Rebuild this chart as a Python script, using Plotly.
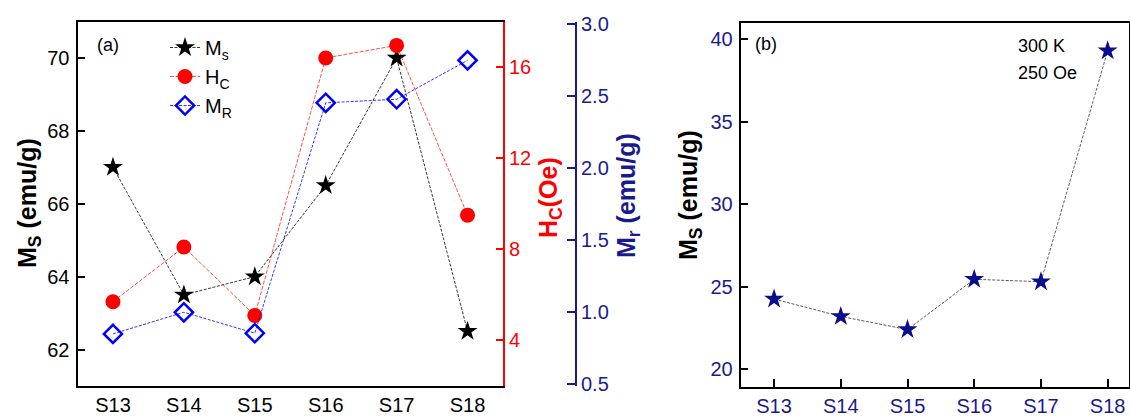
import plotly.graph_objects as go

# Sample labels shared by both panels
samples = ["S13", "S14", "S15", "S16", "S17", "S18"]

# Panel (a): saturation magnetisation, coercivity and remanence
ms_a = [67.0, 63.5, 64.0, 66.5, 70.0, 62.5]
hc_a = [5.7, 8.1, 5.1, 16.4, 16.95, 9.5]
mr_a = [0.85, 1.0, 0.855, 2.455, 2.48, 2.75]

# Panel (b): magnetisation at 300 K, 250 Oe
ms_b = [24.25, 23.2, 22.4, 25.45, 25.3, 39.3]

W, H = 1130, 417
NAVY = "#1a1a8e"
STAR_NAVY = "#0c0c8f"
FONT = "Liberation Sans, Arial, sans-serif"

def px(x):
    return x / W

def py(y):
    return 1 - y / H

idx = list(range(len(samples)))

fig = go.Figure()

fig.add_trace(go.Scatter(
    x=idx, y=ms_a, name="M<sub>s</sub>", mode="lines+markers",
    line=dict(color="black", width=0.8, dash="3px,1.5px"),
    marker=dict(symbol="star", size=15, color="black"),
    xaxis="x", yaxis="y"))
fig.add_trace(go.Scatter(
    x=idx, y=hc_a, name="H<sub>C</sub>", mode="lines+markers",
    line=dict(color="red", width=0.7, dash="4px,1.5px"),
    marker=dict(symbol="circle", size=15, color="red"),
    xaxis="x", yaxis="y2"))
fig.add_trace(go.Scatter(
    x=idx, y=mr_a, name="M<sub>R</sub>", mode="lines+markers",
    line=dict(color="blue", width=0.8, dash="3px,1.5px"),
    marker=dict(symbol="diamond-open", size=14, color="blue", line=dict(width=2.5, color="blue")),
    xaxis="x", yaxis="y3"))
fig.add_trace(go.Scatter(
    x=idx, y=ms_b, mode="lines+markers", showlegend=False,
    line=dict(color="#333333", width=0.8, dash="3px,1.5px"),
    marker=dict(symbol="star", size=15, color=STAR_NAVY),
    xaxis="x2", yaxis="y4"))

dom_a = [px(77.5), px(503)]
ydom_a = [py(386), py(21.5)]
dom_b = [px(740.7), px(1129)]
ydom_b = [py(386.5), py(22.7)]

tickfont = dict(family=FONT, size=20, color="black")

fig.update_layout(
    template="none",
    width=W, height=H,
    margin=dict(l=0, r=0, t=0, b=0, pad=0),
    paper_bgcolor="white", plot_bgcolor="white",
    font=dict(family=FONT, size=20, color="black"),
    xaxis=dict(domain=dom_a, anchor="y", range=[-0.5, 5.5], automargin=False,
               tickvals=idx, ticktext=samples, ticks="",
               showline=True, linecolor="black", linewidth=2, mirror=True,
               showgrid=False, zeroline=False, tickfont=tickfont),
    yaxis=dict(domain=ydom_a, anchor="x", range=[61, 71], automargin=False,
               tickvals=[62, 64, 66, 68, 70], ticks="inside", ticklen=7,
               tickwidth=2, tickcolor="black",
               showline=True, linecolor="black", linewidth=2,
               showgrid=False, zeroline=False, tickfont=tickfont,
               ticklabelstandoff=2),
    yaxis2=dict(overlaying="y", anchor="x", side="right", range=[2, 18],
                automargin=False,
                tickvals=[4, 8, 12, 16], ticks="inside", ticklen=7,
                tickwidth=2, tickcolor="red",
                showline=True, linecolor="red", linewidth=2,
                showgrid=False, zeroline=False,
                tickfont=dict(family=FONT, size=20, color="red"),
                ticklabelstandoff=0),
    yaxis3=dict(overlaying="y", anchor="free", position=px(576), side="right",
                range=[0.488, 3.02], automargin=False,
                tickvals=[0.5, 1.0, 1.5, 2.0, 2.5, 3.0],
                ticktext=["0.5", "1.0", "1.5", "2.0", "2.5", "3.0"],
                ticks="inside", ticklen=8, tickwidth=2, tickcolor=NAVY,
                showline=True, linecolor=NAVY, linewidth=2,
                showgrid=False, zeroline=False,
                tickfont=dict(family=FONT, size=20, color=NAVY),
                ticklabelstandoff=0),
    xaxis2=dict(domain=dom_b, anchor="y4", range=[-0.5, 5.32], automargin=False,
                tickvals=idx, ticktext=samples, ticks="inside", ticklen=8,
                tickwidth=2, tickcolor="black",
                showline=True, linecolor="black", linewidth=2, mirror=True,
                showgrid=False, zeroline=False,
                tickfont=dict(family=FONT, size=20, color=NAVY)),
    yaxis4=dict(domain=ydom_b, anchor="x2", range=[18.95, 41.0], automargin=False,
                tickvals=[20, 25, 30, 35, 40], ticks="inside", ticklen=7,
                tickwidth=2, tickcolor="black",
                showline=True, linecolor="black", linewidth=2, mirror=True,
                showgrid=False, zeroline=False,
                tickfont=dict(family=FONT, size=20, color=NAVY),
                ticklabelstandoff=2),
    legend=dict(x=px(165), y=py(28), xanchor="left", yanchor="top",
                bgcolor="rgba(0,0,0,0)", borderwidth=0,
                font=dict(family=FONT, size=20, color="black"),
                itemwidth=30, tracegroupgap=0),
)

def note(text, x, y, size=18, color="black", angle=0, xanchor="left"):
    fig.add_annotation(text=text, x=px(x), y=py(y), xref="paper", yref="paper",
                       xanchor=xanchor, yanchor="middle", showarrow=False,
                       textangle=angle, font=dict(family=FONT, size=size, color=color))

note("(a)", 95, 45)
note("(b)", 753, 44)
note("300 K", 1016, 46)
note("250 Oe", 1016, 73)

note("<b>M<sub>S</sub> (emu/g)</b>", 29, 203, size=25, angle=-90, xanchor="center")
note("<b>H<sub>C</sub>(Oe)</b>", 550, 198, size=25, color="red", angle=-90, xanchor="center")
note("<b>M<sub>r</sub> (emu/g)</b>", 628, 196, size=25, color=NAVY, angle=-90, xanchor="center")
note("<b>M<sub>S</sub> (emu/g)</b>", 690, 195, size=25, angle=-90, xanchor="center")

fig.write_html("out.html")
